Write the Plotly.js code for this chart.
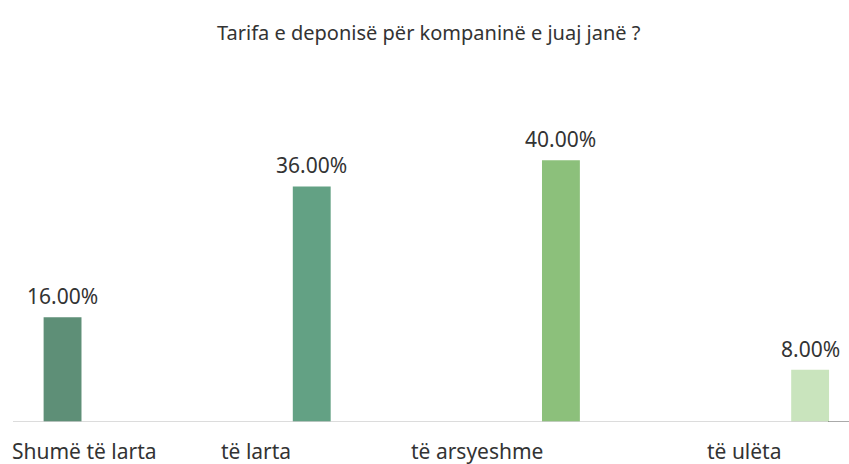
<!DOCTYPE html>
<html>
<head>
<meta charset="utf-8">
<script src="https://cdn.plot.ly/plotly-3.0.1.min.js"></script>
<style>html,body{margin:0;padding:0;background:#fff;}#chart{width:849px;height:464px;}</style>
</head>
<body>
<div id="chart"></div>
<script>
const categories = ["Shumë të larta", "të larta", "të arsyeshme", "të ulëta"];
const values = [16, 36, 40, 8];
const valueLabels = ["16.00%", "36.00%", "40.00%", "8.00%"];
const barColors = ["#5e8f77", "#63a184", "#8cc07b", "#c9e4bd"];
const titleText = "Tarifa e deponisë për kompaninë e juaj janë ?";

const xIdx = categories.map((c, i) => i);
const labelShift = [22, -56, -84, -66];
const font = "'Noto Sans', 'Open Sans', sans-serif";

const trace = {
  type: "bar",
  x: xIdx,
  y: values,
  width: 0.152,
  marker: { color: barColors },
  hoverinfo: "none"
};

const annotations = [];
values.forEach((v, i) => {
  annotations.push({
    x: xIdx[i], y: v, xref: "x", yref: "y",
    text: valueLabels[i], showarrow: false,
    yanchor: "bottom", yshift: 5,
    font: { family: font, size: 21, color: "#333333" }
  });
  annotations.push({
    x: xIdx[i], y: 0, xref: "x", yref: "y",
    text: categories[i], showarrow: false,
    yanchor: "top", yshift: -13, xshift: labelShift[i],
    font: { family: font, size: 21, color: "#333333" }
  });
});

const layout = {
  width: 849, height: 464,
  margin: { l: 0, r: 0, t: 100, b: 42 },
  paper_bgcolor: "#ffffff", plot_bgcolor: "#ffffff",
  title: {
    text: titleText, x: 0.505, xanchor: "center",
    y: 1 - 33 / 464, yanchor: "middle", yref: "container",
    font: { family: font, size: 20, color: "#333333" }
  },
  xaxis: {
    range: [-0.251, 3.156], showgrid: false, zeroline: false,
    showticklabels: false, showline: false, ticks: ""
  },
  yaxis: {
    range: [0, 49.2], showgrid: false, zeroline: false,
    showticklabels: false, showline: false, ticks: ""
  },
  shapes: [
    { type: "line", xref: "paper", yref: "y", x0: 13 / 849, x1: 828 / 849, y0: 0, y1: 0,
      line: { color: "#d0d0d0", width: 1.5 } },
    { type: "line", xref: "paper", yref: "y", x0: 828 / 849, x1: 1, y0: 0, y1: 0,
      line: { color: "#555555", width: 1 } }
  ],
  annotations: annotations,
  showlegend: false
};

Plotly.newPlot("chart", [trace], layout, { displayModeBar: false, staticPlot: true });
</script>
</body>
</html>
